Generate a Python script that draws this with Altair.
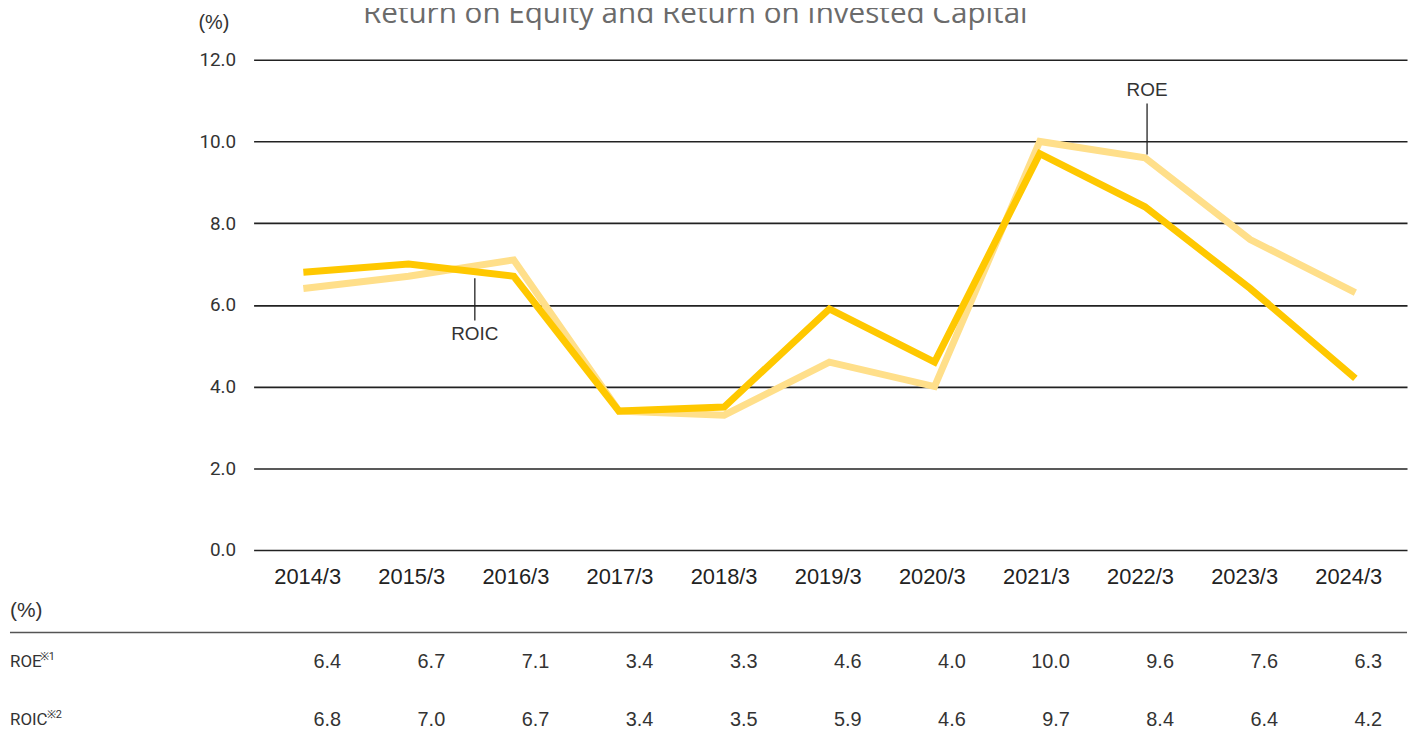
import altair as alt
import pandas as pd

years = ["2014/3", "2015/3", "2016/3", "2017/3", "2018/3", "2019/3",
         "2020/3", "2021/3", "2022/3", "2023/3", "2024/3"]
year_num = [2014, 2015, 2016, 2017, 2018, 2019, 2020, 2021, 2022, 2023, 2024]
roe = [6.4, 6.7, 7.1, 3.4, 3.3, 4.6, 4.0, 10.0, 9.6, 7.6, 6.3]
roic = [6.8, 7.0, 6.7, 3.4, 3.5, 5.9, 4.6, 9.7, 8.4, 6.4, 4.2]
y_ticks = [0, 2, 4, 6, 8, 10, 12]

# annotation (label, x in year units, leader top, leader bottom, text y)
ann_label = ["ROIC", "ROE"]
ann_x = [2015.63, 2022.02]
ann_y1 = [6.65, 10.93]
ann_y2 = [5.62, 9.68]
ann_ty = [5.28, 11.25]

row_names = ["ROE", "ROIC"]
row_notes = ["※1", "※2"]

title = "Return on Equity and Return on Invested Capital"

ROE_COLOR = "#FFDF8A"
ROIC_COLOR = "#FFC800"

lines_df = pd.DataFrame({
    "num": year_num * 2,
    "year": years * 2,
    "value": roe + roic,
    "series": ["ROE"] * len(years) + ["ROIC"] * len(years),
})
ann_df = pd.DataFrame({"label": ann_label, "x": ann_x, "y1": ann_y1,
                       "y2": ann_y2, "ty": ann_ty})
table_df = pd.DataFrame({
    "year": years * 2,
    "row": ["ROE"] * len(years) + ["ROIC"] * len(years),
    "txt": [f"{v:.1f}" for v in roe] + [f"{v:.1f}" for v in roic],
})
labels_df = pd.DataFrame({"year": years})
rowlab_df = pd.DataFrame({"row": row_names, "note": row_notes})

W, H = 1160, 493
xscale = alt.Scale(domain=[2013.527, 2024.491], range=[0, W], nice=False,
                   zero=False)
yscale = alt.Scale(domain=[0, 12], range=[H, 0])
tscale = alt.Scale(domain=years, range=[88, 1135], type="point", padding=0)
rowscale = alt.Scale(domain=row_names, range=[606, 664], type="point",
                     padding=0)

yaxis = alt.Axis(values=y_ticks, format=".1f", grid=True, gridColor="#222222",
                 gridWidth=1.6, domain=False, ticks=False, labelPadding=18,
                 labelFont="Roboto", labelFontSize=19,
                 labelColor="#333333", title="(%)", titleAngle=0,
                 titleFont="Liberation Sans", titleFontSize=20,
                 titleFontWeight="normal", titleColor="#333333",
                 titleX=-56, titleY=-37, titleAlign="left",
                 titleBaseline="middle")

base = alt.Chart(lines_df)

roe_line = base.transform_filter(alt.datum.series == "ROE").mark_line(
    color=ROE_COLOR, strokeWidth=7, strokeJoin="miter"
).encode(
    x=alt.X("num:Q", scale=xscale, axis=None),
    y=alt.Y("value:Q", scale=yscale, axis=yaxis),
)
roic_line = base.transform_filter(alt.datum.series == "ROIC").mark_line(
    color=ROIC_COLOR, strokeWidth=7, strokeJoin="miter"
).encode(
    x=alt.X("num:Q", scale=xscale, axis=None),
    y=alt.Y("value:Q", scale=yscale, axis=None),
)

ann_rule = alt.Chart(ann_df).mark_rule(color="#222222", strokeWidth=1.3).encode(
    x=alt.X("x:Q", scale=xscale, axis=None),
    y=alt.Y("y1:Q", scale=yscale, axis=None),
    y2="y2:Q",
)
ann_text = alt.Chart(ann_df).mark_text(
    font="Liberation Sans", fontSize=19, color="#333333", baseline="middle"
).encode(
    x=alt.X("x:Q", scale=xscale, axis=None),
    y=alt.Y("ty:Q", scale=yscale, axis=None),
    text="label:N",
)

xlabels = alt.Chart(labels_df).mark_text(
    font="Liberation Sans", fontSize=22, color="#222222", align="right",
    baseline="middle"
).encode(
    x=alt.X("year:N", scale=tscale, axis=None),
    y=alt.value(520),
    text="year:N",
)

table_vals = alt.Chart(table_df).mark_text(
    font="Liberation Sans", fontSize=20, color="#333333", align="right",
    baseline="middle"
).encode(
    x=alt.X("year:N", scale=tscale, axis=None),
    y=alt.Y("row:N", scale=rowscale, axis=None),
    text="txt:N",
)

row_labels = alt.Chart(rowlab_df).mark_text(
    font="Roboto", fontSize=17, color="#333333",
    align="left", baseline="middle"
).encode(
    x=alt.value(-245),
    y=alt.Y("row:N", scale=rowscale, axis=None),
    text="row:N",
)

note_roe = alt.Chart(rowlab_df).transform_filter(
    alt.datum.row == "ROE"
).mark_text(
    font="Roboto", fontSize=11, color="#333333",
    align="left", baseline="middle", dy=-5
).encode(
    x=alt.value(-215),
    y=alt.Y("row:N", scale=rowscale, axis=None),
    text="note:N",
)
note_roic = alt.Chart(rowlab_df).transform_filter(
    alt.datum.row == "ROIC"
).mark_text(
    font="Roboto", fontSize=11, color="#333333",
    align="left", baseline="middle", dy=-5
).encode(
    x=alt.value(-208),
    y=alt.Y("row:N", scale=rowscale, axis=None),
    text="note:N",
)

pct_label = alt.Chart(pd.DataFrame({"t": ["(%)"]})).mark_text(
    font="Liberation Sans", fontSize=21, color="#333333", align="left",
    baseline="middle"
).encode(x=alt.value(-245), y=alt.value(554), text="t:N")

sep_rule = alt.Chart(pd.DataFrame({"a": [0]})).mark_rule(
    color="#555555", strokeWidth=1.5
).encode(x=alt.value(-245), x2=alt.value(W), y=alt.value(576))

title_text = alt.Chart(pd.DataFrame({"t": [title]})).mark_text(
    font="Open Sans", fontSize=29.8, color="#6b6b6b", align="left",
    baseline="alphabetic"
).encode(x=alt.value(110), y=alt.value(-37), text="t:N")

chart = alt.layer(
    roe_line, roic_line, ann_rule, ann_text, xlabels, table_vals, row_labels,
    note_roe, note_roic, pct_label, sep_rule, title_text
).resolve_scale(
    x="independent", y="independent"
).properties(
    width=W, height=H,
    autosize=alt.AutoSizeParams(type="none"),
    padding={"left": 247, "top": 50, "right": 3, "bottom": 180},
).configure_view(stroke=None)

chart.save("out.html", embed_options={"renderer": "svg", "actions": False})
